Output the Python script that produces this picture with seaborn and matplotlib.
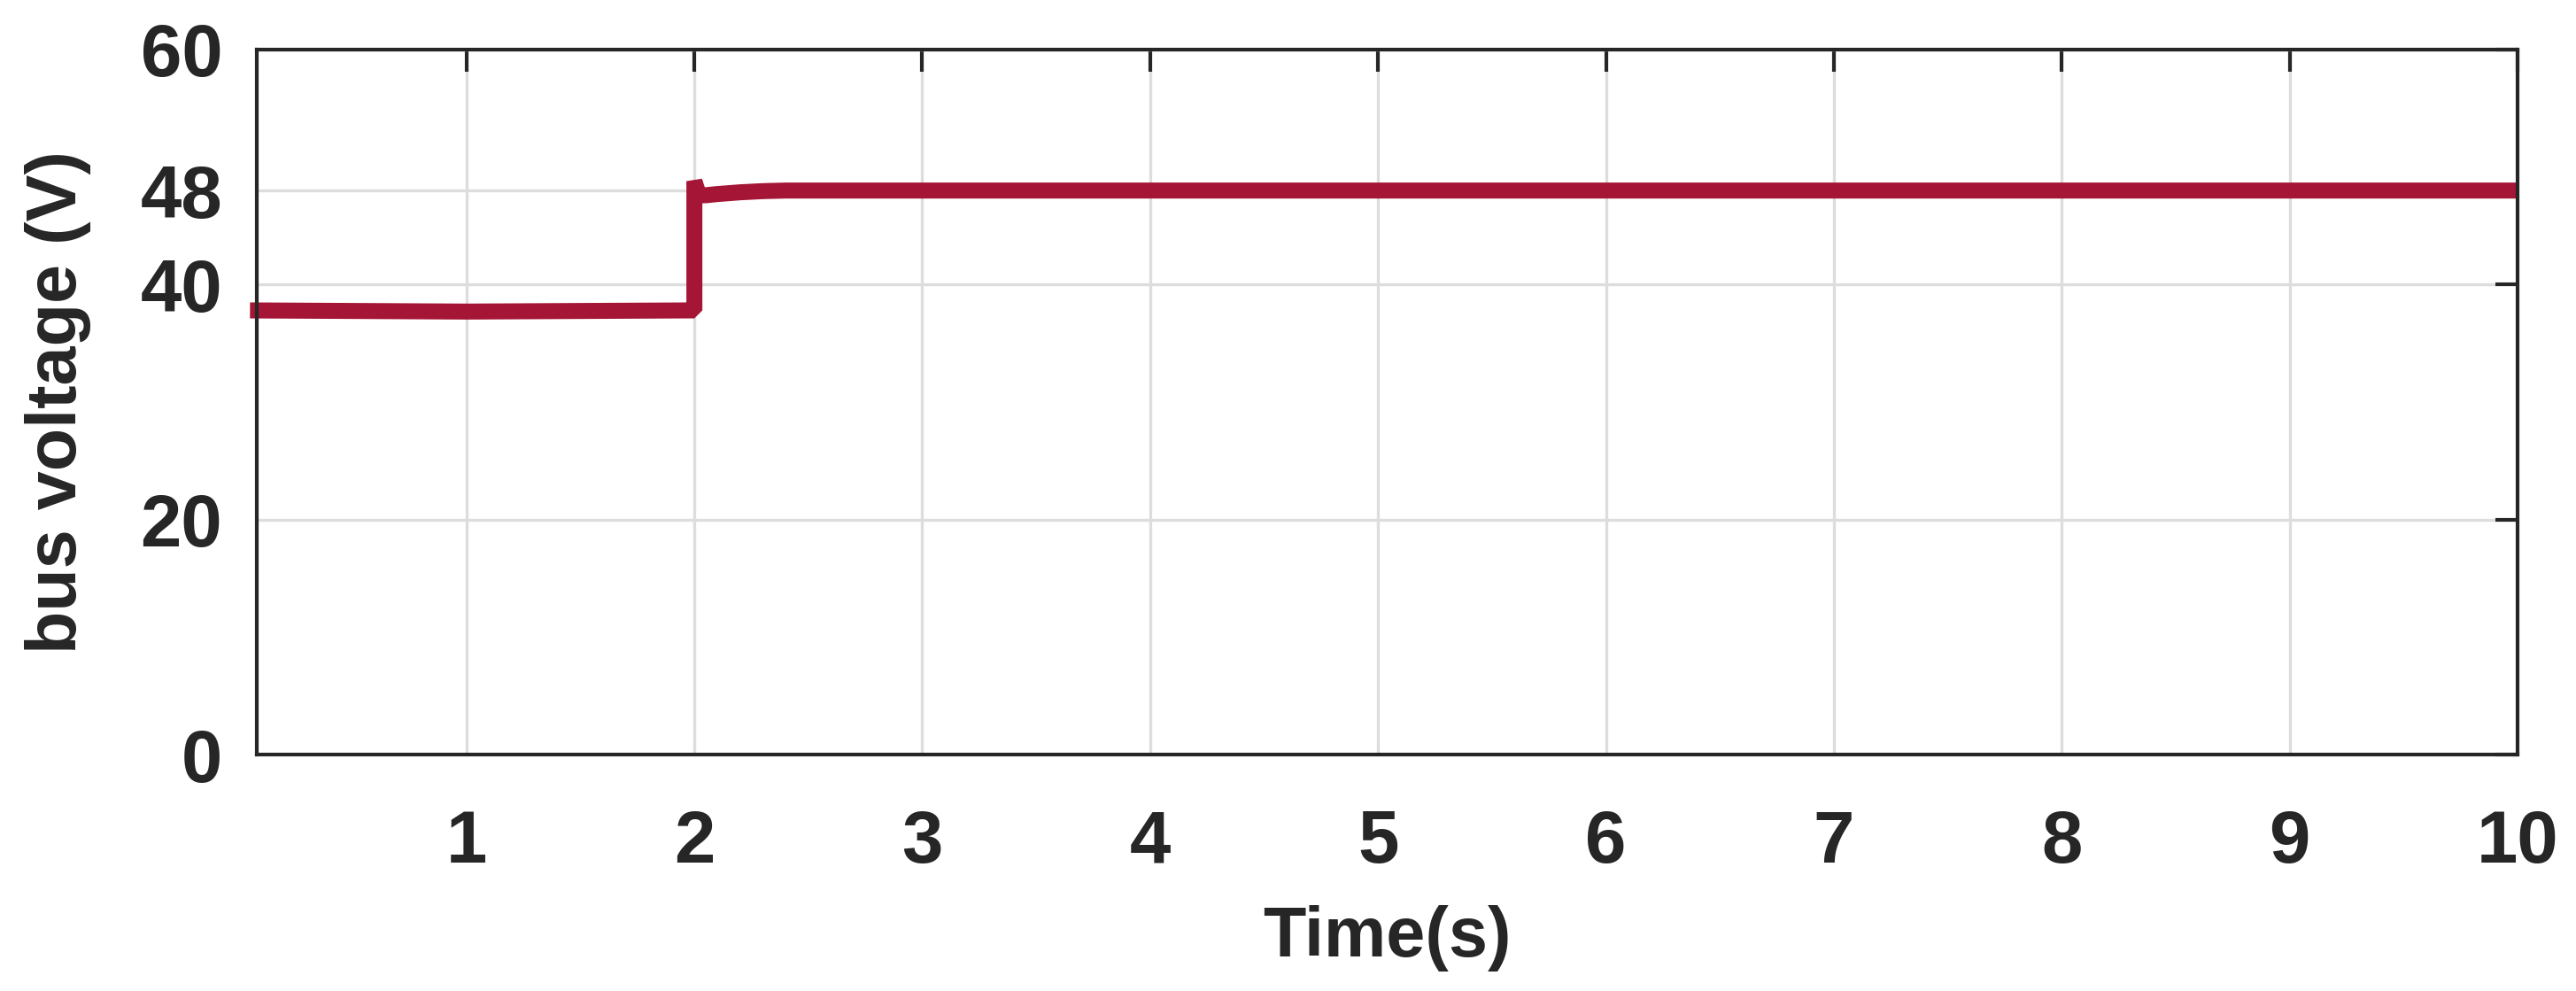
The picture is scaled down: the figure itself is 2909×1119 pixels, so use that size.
import numpy as np
import pandas as pd
import matplotlib
matplotlib.use("Agg")
from matplotlib import pyplot as plt
import seaborn as sns

# values
time_s = [0.05, 1.0, 1.98, 2.0, 2.0, 2.02, 2.05, 2.1, 2.2, 2.3, 2.4, 2.6, 4.0, 10.0]
bus_v = [37.8, 37.7, 37.8, 37.8, 48.8, 47.6, 47.6, 47.7, 47.85, 47.95, 48.0, 48.0, 48.0, 48.0]
x_ticks = [1, 2, 3, 4, 5, 6, 7, 8, 9, 10]
y_ticks = [0, 20, 40, 48, 60]

LINE_COLOR = "#A51535"
TEXT_COLOR = "#262626"

sns.set_style("white")
plt.rcParams["font.family"] = ["Liberation Sans", "DejaVu Sans"]
plt.rcParams["font.weight"] = "bold"

df = pd.DataFrame({"time": time_s, "voltage": bus_v})

fig, ax = plt.subplots(figsize=(14.545, 5.595), dpi=200)
fig.subplots_adjust(left=0.0997, right=0.9773, bottom=0.2386, top=0.950)

sns.lineplot(
    data=df,
    x="time",
    y="voltage",
    sort=False,
    estimator=None,
    color=LINE_COLOR,
    linewidth=6.5,
    solid_joinstyle="bevel",
    solid_capstyle="butt",
    ax=ax,
)
# trace starts a touch left of the frame in the original
ax.lines[0].set_clip_on(False)

ax.set_xlim(0.08, 10)
ax.set_ylim(0, 60)
ax.set_xticks(x_ticks)
ax.set_yticks(y_ticks)
ax.grid(True, color="#DDDDDD", linewidth=1.2)
ax.set_axisbelow(True)

for sp in ax.spines.values():
    sp.set_visible(True)
    sp.set_color(TEXT_COLOR)
    sp.set_linewidth(1.5)

ax.tick_params(
    axis="both",
    direction="in",
    length=9,
    width=1.5,
    color=TEXT_COLOR,
    labelsize=30,
    labelcolor=TEXT_COLOR,
    top=True,
    right=True,
)
ax.tick_params(axis="x", pad=22)
ax.tick_params(axis="y", pad=14)
for lbl in ax.get_xticklabels() + ax.get_yticklabels():
    lbl.set_fontweight("bold")

ax.set_xlabel("Time(s)", fontsize=28.5, fontweight="bold", color=TEXT_COLOR, labelpad=11)
ax.set_ylabel("bus voltage (V)", fontsize=28.5, fontweight="bold", color=TEXT_COLOR, labelpad=20)

plt.savefig("out.png", dpi=200)
plt.close()
